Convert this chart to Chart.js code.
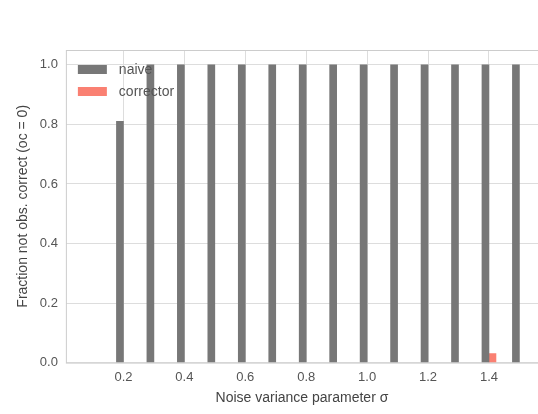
<!DOCTYPE html>
<html>
<head>
<meta charset="utf-8">
<script src="https://cdn.jsdelivr.net/npm/chart.js@4"></script>
<style>
  html, body { margin: 0; padding: 0; background: #fff; }
  #grafico { display: block; }
</style>
</head>
<body>
<canvas id="grafico" width="538" height="414"></canvas>
<script>
const sigmas = [0.2, 0.3, 0.4, 0.5, 0.6, 0.7, 0.8, 0.9, 1.0, 1.1, 1.2, 1.3, 1.4, 1.5];
const naive = [0.81, 1, 1, 1, 1, 1, 1, 1, 1, 1, 1, 1, 1, 1];
const corrector = [0, 0, 0, 0, 0, 0, 0, 0, 0, 0, 0, 0, 0.03, 0];
const xTicks = [0.2, 0.4, 0.6, 0.8, 1.0, 1.2, 1.4];
const yTicks = [0.0, 0.2, 0.4, 0.6, 0.8, 1.0];

const fonte = "'Liberation Sans', Arial, sans-serif";

// barras de altura zero nao sao desenhadas (null)
function pontos(valores) {
  return sigmas.map((s, i) => ({ x: s, y: valores[i] === 0 ? null : valores[i] }));
}

// legenda dentro da area do grafico + moldura
const legendaInterna = {
  id: "legendaInterna",
  beforeDatasetsDraw(chart) {
    const a = chart.chartArea;
    const ctx = chart.ctx;
    ctx.save();
    ctx.strokeStyle = "#cccccc";
    ctx.lineWidth = 1;
    ctx.strokeRect(a.left + 0.5, a.top + 0.5, a.right - a.left, a.bottom - a.top);
    ctx.restore();
  },
  afterDatasetsDraw(chart) {
    const a = chart.chartArea;
    const ctx = chart.ctx;
    ctx.save();
    ctx.font = "14px " + fonte;
    ctx.textBaseline = "middle";
    chart.data.datasets.forEach((ds, i) => {
      const y = a.top + 20 + i * 22;
      ctx.fillStyle = ds.backgroundColor;
      ctx.fillRect(a.left + 12, y - 5, 29, 9);
      ctx.fillStyle = "#555555";
      ctx.fillText(ds.label, a.left + 53, y);
    });
    ctx.restore();
  }
};

new Chart(document.getElementById("grafico").getContext("2d"), {
  type: "bar",
  data: {
    datasets: [
      { label: "naive", data: pontos(naive), backgroundColor: "#777777", barThickness: 7 },
      { label: "corrector", data: pontos(corrector), backgroundColor: "#fa8072", barThickness: 7 }
    ]
  },
  options: {
    responsive: false,
    animation: false,
    layout: { padding: { top: 50, right: 0, left: 9, bottom: 7 } },
    plugins: { legend: { display: false }, tooltip: { enabled: false } },
    scales: {
      x: {
        type: "linear",
        min: 0.011,
        max: 1.561,
        offset: false,
        afterBuildTicks: (scale) => { scale.ticks = xTicks.map(v => ({ value: v })); },
        ticks: {
          callback: (v) => Number(v).toFixed(1),
          color: "#555555",
          font: { family: fonte, size: 13 },
          padding: 7,
          maxRotation: 0
        },
        grid: { color: "#dddddd", drawTicks: false, offset: false },
        border: { display: false },
        title: {
          display: true,
          text: "Noise variance parameter σ",
          color: "#444444",
          font: { family: fonte, size: 14 },
          padding: { top: -2, bottom: 0 }
        }
      },
      y: {
        min: 0,
        max: 1.05,
        afterBuildTicks: (scale) => { scale.ticks = yTicks.map(v => ({ value: v })); },
        ticks: {
          callback: (v) => Number(v).toFixed(1),
          color: "#555555",
          font: { family: fonte, size: 13 },
          padding: 8
        },
        grid: { color: "#dddddd", drawTicks: false },
        border: { display: false },
        title: {
          display: true,
          text: "Fraction not obs. correct (oc = 0)",
          color: "#444444",
          font: { family: fonte, size: 14 },
          padding: { top: 6, bottom: 0 }
        }
      }
    }
  },
  plugins: [legendaInterna]
});
</script>
</body>
</html>
